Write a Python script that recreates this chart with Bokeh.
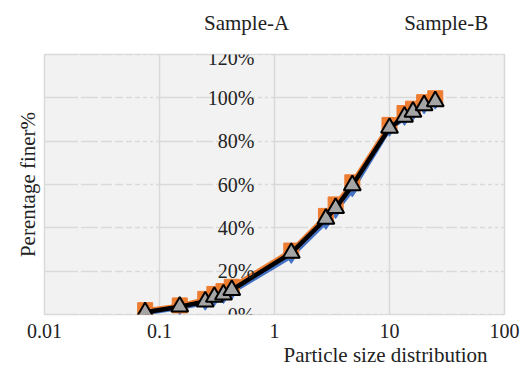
from bokeh.plotting import figure
from bokeh.models import (FixedTicker, Legend, LegendItem, Title, LogTickFormatter)
from bokeh.layouts import column
from bokeh.embed import file_html
from bokeh.resources import INLINE

# ---- data ----
sizes = [0.075, 0.15, 0.25, 0.30, 0.36, 0.425, 1.4, 2.8, 3.4, 4.75, 10, 13.5, 16, 20, 25]
sample_a = [0.5, 3.0, 5.2, 7.2, 8.3, 10.2, 26.8, 42.5, 47.5, 57.5, 85.5, 90.5, 92.8, 95.8, 98.0]
sample_b = [2.0, 4.2, 7.2, 9.5, 10.8, 12.8, 29.5, 45.5, 50.8, 61.0, 87.5, 93.0, 95.0, 98.0, 99.8]
sample_c = [1.0, 3.6, 6.0, 8.1, 9.2, 11.3, 28.4, 44.2, 49.1, 59.6, 86.1, 91.2, 93.5, 96.5, 98.4]

x_ticks = [0.01, 0.1, 1, 10, 100]
y_ticks = [0, 20, 40, 60, 80, 100, 120]
y_tick_labels = ["0%", "20%", "40%", "60%", "80%", "100%", "120%"]
y_axis_cross = 1
minor_x = [m * d for d in [0.01, 0.1, 1, 10] for m in range(2, 10)]
series_names = ["Sample-A", "Sample-B"]

FONT = "Liberation Serif"
GRID = "#D9D9D9"
BG = "#F2F2F2"
TXT = "#222222"
BLUE = "#4472C4"
ORANGE = "#ED7D31"

# ---------------- main chart ----------------
p = figure(width=520, height=320, x_axis_type="log", title=None,
           x_range=(0.01, 100), y_range=(0, 120),
           output_backend="svg", toolbar_location=None,
           min_border_left=44, min_border_right=16,
           min_border_top=8, min_border_bottom=50)
p.background_fill_color = BG
p.border_fill_color = "white"
p.outline_line_color = GRID
p.outline_line_width = 1.5

# x axis
p.xaxis.ticker = FixedTicker(ticks=x_ticks, minor_ticks=minor_x)
p.xaxis.formatter = LogTickFormatter(min_exponent=3)
p.xaxis.axis_line_color = None
p.xaxis.major_tick_line_color = None
p.xaxis.minor_tick_line_color = None
p.xaxis.major_label_text_font = FONT
p.xaxis.major_label_text_font_size = "20px"
p.xaxis.major_label_text_color = TXT
p.xaxis.major_label_standoff = 3

# y axis crossing at x = 1
p.yaxis.ticker = FixedTicker(ticks=y_ticks)
p.yaxis.major_label_overrides = dict(zip(y_ticks, y_tick_labels))
p.yaxis.fixed_location = y_axis_cross
p.yaxis.axis_line_color = None
p.yaxis.major_tick_line_color = None
p.yaxis.minor_tick_line_color = None
p.yaxis.major_label_text_font = FONT
p.yaxis.major_label_text_font_size = "20px"
p.yaxis.major_label_text_color = TXT
p.yaxis.major_label_standoff = 14

# grids (vertical minor lines in background colour cut gaps into the horizontal lines)
p.ygrid.ticker = FixedTicker(ticks=y_ticks)
p.xgrid.grid_line_color = GRID
p.xgrid.grid_line_width = 1.5
p.xgrid.minor_grid_line_color = BG
p.xgrid.minor_grid_line_width = 3
p.ygrid.grid_line_color = GRID
p.ygrid.grid_line_width = 1.5
p.center = [p.ygrid[0], p.xgrid[0]]

# series
p.line(sizes, sample_a, line_color=BLUE, line_width=4)
p.scatter(sizes, sample_a, marker="diamond", size=14, fill_color=BLUE, line_color=BLUE)
p.line(sizes, sample_b, line_color=ORANGE, line_width=4)
p.scatter(sizes, sample_b, marker="square", size=15, fill_color=ORANGE, line_color=ORANGE)
p.line(sizes, sample_c, line_color="black", line_width=4.5)
p.scatter(sizes, sample_c, marker="triangle", size=17, fill_color="#A5A5A5", line_color="black", line_width=2)

p.add_layout(Title(text="Particle size distribution", align="left", offset=239, standoff=0,
                   text_font=FONT, text_font_size="21px", text_font_style="normal",
                   text_color=TXT), "below")
p.add_layout(Title(text="Perentage finer%", align="center", offset=-10,
                   text_font=FONT, text_font_size="21px", text_font_style="normal",
                   text_color=TXT), "left")

# ---------------- legend strip above ----------------
lf = figure(width=520, height=46, title=None, x_range=(0, 1), y_range=(0, 1),
            output_backend="svg", toolbar_location=None, min_border=0)
lf.xaxis.visible = False
lf.yaxis.visible = False
lf.xgrid.visible = False
lf.ygrid.visible = False
lf.outline_line_color = None
lf.background_fill_color = "white"
lf.border_fill_color = "white"
l1 = lf.line([], [], line_color=BLUE, line_width=4)
m1 = lf.scatter([], [], marker="diamond", size=14, fill_color=BLUE, line_color=BLUE)
l2 = lf.line([], [], line_color=ORANGE, line_width=4)
m2 = lf.scatter([], [], marker="square", size=15, fill_color=ORANGE, line_color=ORANGE)
legend = Legend(items=[LegendItem(label=series_names[0], renderers=[l1, m1]),
                       LegendItem(label=series_names[1], renderers=[l2, m2])],
                orientation="horizontal", location=(103, 9),
                glyph_width=52, glyph_height=28, label_standoff=5, spacing=58,
                label_text_font=FONT, label_text_font_size="21px",
                label_text_color=TXT, padding=0, margin=0,
                background_fill_alpha=0, border_line_color=None)
lf.add_layout(legend, "center")

open("out.html", "w").write(file_html(column(lf, p), INLINE))
